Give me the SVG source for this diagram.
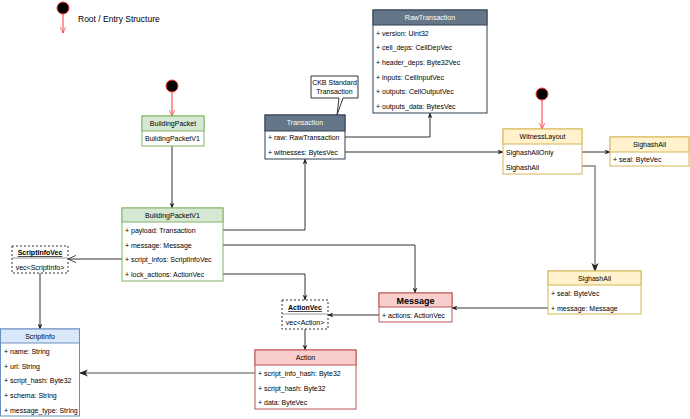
<svg xmlns="http://www.w3.org/2000/svg" width="690" height="419" viewBox="0 0 690 419">
<style>
text{font-family:"Liberation Sans",Arial,sans-serif;font-size:7px;fill:#000}
.h{text-anchor:middle}
.w{fill:#fff}
.c{stroke:#333;stroke-width:1;fill:none}
.g{stroke:#888;stroke-width:1.5;fill:none}
.r{stroke:#f33;stroke-width:1;fill:none}
.bx{fill:#fff}
</style>
<defs>
<marker id="a" viewBox="0 0 10 10" refX="9" refY="5" markerWidth="6" markerHeight="6" orient="auto"><path d="M0,1 L10,5 L0,9 L3,5 Z" fill="#222"/></marker>
<marker id="o" viewBox="0 0 10 10" refX="9" refY="5" markerWidth="9" markerHeight="9" orient="auto"><path d="M0,1 L9,5 L0,9" fill="none" stroke="#333"/></marker>
<marker id="ro" viewBox="0 0 10 10" refX="9" refY="5" markerWidth="7" markerHeight="7" orient="auto"><path d="M0,1 L9,5 L0,9" fill="none" stroke="#f33"/></marker>
</defs>
<g id="legend">
<circle cx="63" cy="8" r="6" fill="#000" stroke="#f33"/>
<line x1="63" y1="14" x2="63" y2="33" class="r" marker-end="url(#ro)"/>
<text x="78" y="22" style="font-size:8.5px">Root / Entry Structure</text>
</g>
<g id="connectors">
<circle cx="172" cy="86" r="6" fill="#000" stroke="#f33"/>
<line x1="172" y1="92" x2="172" y2="116" class="r" marker-end="url(#ro)"/>
<circle cx="542" cy="94" r="6" fill="#000" stroke="#f33"/>
<line x1="542" y1="100" x2="542" y2="129" class="r" marker-end="url(#ro)"/>
<line x1="172" y1="146" x2="172" y2="208" class="c" marker-end="url(#a)"/>
<polyline points="223,230 305,230 305,159" class="c" marker-end="url(#a)"/>
<polyline points="223,245 415,245 415,293" class="c" marker-end="url(#a)"/>
<polyline points="223,274 305,274 305,300" class="c" marker-end="url(#a)"/>
<line x1="122" y1="259" x2="68" y2="259" class="c" marker-end="url(#o)"/>
<line x1="40" y1="273" x2="40" y2="329" class="c" marker-end="url(#a)"/>
<polyline points="345,137 430,137 430,113" class="c" marker-end="url(#a)"/>
<line x1="345" y1="152" x2="503" y2="152" class="c" marker-end="url(#a)"/>
<line x1="582" y1="152" x2="610" y2="152" class="c" marker-end="url(#a)"/>
<polyline points="582,166 595,166 595,271" class="g" marker-end="url(#a)"/>
<line x1="548" y1="308" x2="452" y2="308" class="c" marker-end="url(#a)"/>
<line x1="379" y1="315" x2="328" y2="315" class="c" marker-end="url(#a)"/>
<line x1="305" y1="329" x2="305" y2="350" class="c" marker-end="url(#a)"/>
<line x1="255" y1="373" x2="80" y2="373" class="g" marker-end="url(#a)"/>
</g>
<g id="BuildingPacket">
<rect x="142" y="116" width="62" height="30" class="bx" stroke="#82b366"/>
<rect x="142" y="116" width="62" height="15" fill="#d5e8d4" stroke="#82b366"/>
<text x="173" y="126" class="h">BuildingPacket</text>
<text x="145" y="141">BuildingPacketV1</text>
</g>
<g id="BuildingPacketV1">
<rect x="122" y="208" width="101" height="73" class="bx" stroke="#82b366"/>
<rect x="122" y="208" width="101" height="14" fill="#d5e8d4" stroke="#82b366"/>
<text x="172.5" y="218" class="h">BuildingPacketV1</text>
<text x="125" y="233">+ payload: Transaction</text>
<text x="125" y="248">+ message: Message</text>
<text x="125" y="262">+ script_infos: ScriptInfoVec</text>
<text x="125" y="277">+ lock_actions: ActionVec</text>
</g>
<g id="callout">
<path d="M311,76 H358 V98 H343 L337,115 L339,98 H311 Z" fill="#fff" stroke="#333"/>
<text x="334.5" y="85" class="h">CKB Standard</text>
<text x="334.5" y="94" class="h">Transaction</text>
</g>
<g id="Transaction">
<rect x="265" y="115" width="80" height="44" class="bx" stroke="#314354"/>
<rect x="265" y="115" width="80" height="16" fill="#647687" stroke="#314354"/>
<text x="305" y="125" class="h w">Transaction</text>
<text x="268" y="140">+ raw: RawTransaction</text>
<text x="268" y="155">+ witnesses: BytesVec</text>
</g>
<g id="RawTransaction">
<rect x="373" y="10" width="114" height="103" class="bx" stroke="#314354"/>
<rect x="373" y="10" width="114" height="15" fill="#647687" stroke="#314354"/>
<text x="430" y="20" class="h w">RawTransaction</text>
<text x="376" y="36">+ version: Uint32</text>
<text x="376" y="50">+ cell_deps: CellDepVec</text>
<text x="376" y="65">+ header_deps: Byte32Vec</text>
<text x="376" y="80">+ inputs: CellInputVec</text>
<text x="376" y="94">+ outputs: CellOutputVec</text>
<text x="376" y="109">+ outputs_data: BytesVec</text>
</g>
<g id="WitnessLayout">
<rect x="503" y="129" width="79" height="45" class="bx" stroke="#d6b656"/>
<rect x="503" y="129" width="79" height="15" fill="#fff2cc" stroke="#d6b656"/>
<text x="542.5" y="139" class="h">WitnessLayout</text>
<text x="506" y="155">SighashAllOnly</text>
<text x="506" y="170">SighashAll</text>
</g>
<g id="SighashAllOnly">
<rect x="610" y="137" width="79" height="29" class="bx" stroke="#d6b656"/>
<rect x="610" y="137" width="79" height="15" fill="#fff2cc" stroke="#d6b656"/>
<text x="649.5" y="147" class="h">SighashAll</text>
<text x="613" y="162">+ seal: ByteVec</text>
</g>
<g id="SighashAll">
<rect x="548" y="271" width="93" height="43" class="bx" stroke="#d6b656"/>
<rect x="548" y="271" width="93" height="14" fill="#fff2cc" stroke="#d6b656"/>
<text x="594.5" y="281" class="h">SighashAll</text>
<text x="551" y="296">+ seal: ByteVec</text>
<text x="551" y="311">+ message: Message</text>
</g>
<g id="Message">
<rect x="379" y="293" width="73" height="29" class="bx" stroke="#b85450"/>
<rect x="379" y="293" width="73" height="14" fill="#f8cecc" stroke="#b85450"/>
<text x="415.5" y="304" class="h" style="font-size:9px;font-weight:bold">Message</text>
<text x="382" y="318">+ actions: ActionVec</text>
</g>
<g id="ActionVec">
<rect x="282" y="300" width="46" height="29" fill="#fff" stroke="#333" stroke-dasharray="2,2"/>
<line x1="282" y1="314" x2="328" y2="314" stroke="#999"/>
<text x="305" y="310" class="h" style="font-weight:bold;text-decoration:underline">ActionVec</text>
<text x="305" y="325" class="h">vec&lt;Action&gt;</text>
</g>
<g id="ScriptInfoVec">
<rect x="12" y="246" width="56" height="27" fill="#fff" stroke="#333" stroke-dasharray="2,2"/>
<line x1="12" y1="258" x2="68" y2="258" stroke="#999"/>
<text x="40" y="255" class="h" style="font-weight:bold;text-decoration:underline">ScriptInfoVec</text>
<text x="40" y="270" class="h">vec&lt;ScriptInfo&gt;</text>
</g>
<g id="ScriptInfo">
<rect x="0.5" y="329" width="79" height="87" class="bx" stroke="#6c8ebf"/>
<rect x="0.5" y="329" width="79" height="14" fill="#dae8fc" stroke="#6c8ebf"/>
<text x="40" y="339" class="h">ScriptInfo</text>
<text x="4" y="354">+ name: String</text>
<text x="4" y="369">+ url: String</text>
<text x="4" y="383">+ script_hash: Byte32</text>
<text x="4" y="398">+ schema: String</text>
<text x="4" y="413">+ message_type: String</text>
</g>
<g id="Action">
<rect x="255" y="350" width="101" height="59" class="bx" stroke="#b85450"/>
<rect x="255" y="350" width="101" height="15" fill="#f8cecc" stroke="#b85450"/>
<text x="305.5" y="360" class="h">Action</text>
<text x="258" y="376">+ script_info_hash: Byte32</text>
<text x="258" y="391">+ script_hash: Byte32</text>
<text x="258" y="405">+ data: ByteVec</text>
</g>
</svg>
